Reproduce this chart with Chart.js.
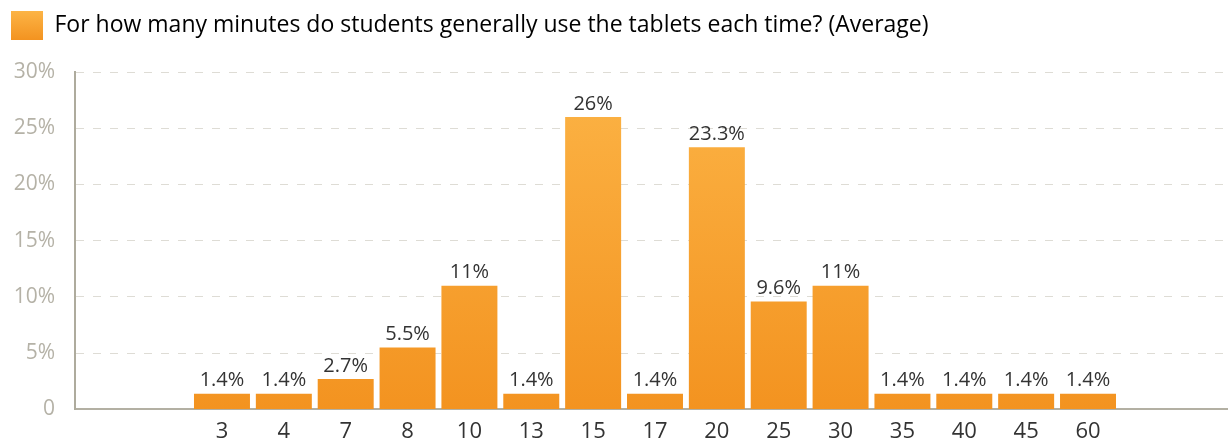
<!DOCTYPE html>
<html>
<head>
<meta charset="utf-8">
<script src="https://cdn.jsdelivr.net/npm/chart.js@4.4.1/dist/chart.umd.min.js"></script>
<style>
  body { margin: 0; background: #fff; }
  #wrap { width: 1228px; height: 442px; position: relative; }
</style>
</head>
<body>
<div id="wrap"><canvas id="myChart"></canvas></div>
<script>
// datos
const minutos = ['3', '4', '7', '8', '10', '13', '15', '17', '20', '25', '30', '35', '40', '45', '60'];
const porcentajes = [1.4, 1.4, 2.7, 5.5, 11, 1.4, 26, 1.4, 23.3, 9.6, 11, 1.4, 1.4, 1.4, 1.4];
const serie = 'For how many minutes do students generally use the tablets each time? (Average)';
const ticksY = [0, 5, 10, 15, 20, 25, 30];

const fuente = "'Open Sans', 'DejaVu Sans', sans-serif";

function degradado(ctx, top, bottom) {
    const g = ctx.createLinearGradient(0, top, 0, bottom);
    g.addColorStop(0, '#FCB446');
    g.addColorStop(1, '#F39320');
    return g;
}

// etiquetas encima de cada barra
const etiquetas = {
    id: 'etiquetas',
    afterDatasetsDraw(chart) {
        const ctx = chart.ctx;
        const meta = chart.getDatasetMeta(0);
        ctx.save();
        ctx.font = '20px ' + fuente;
        ctx.fillStyle = '#333333';
        ctx.textAlign = 'center';
        ctx.textBaseline = 'bottom';
        meta.data.forEach((bar, i) => {
            ctx.fillText(porcentajes[i] + '%', bar.x, bar.y - 3);
        });
        ctx.restore();
    }
};

// espacio extra debajo de la leyenda
const margenLeyenda = {
    id: 'margenLeyenda',
    beforeInit(chart) {
        const fitOriginal = chart.legend.fit;
        chart.legend.fit = function () {
            fitOriginal.bind(chart.legend)();
            this.height = 72;
        };
    }
};

const ctx1 = document.getElementById('myChart');

const chart1 = new Chart(ctx1, {
    type: 'bar',
    data: {
        datasets: [{
            label: serie,
            data: porcentajes.map((v, i) => ({ x: i, y: v })),
            backgroundColor: (c) => {
                const area = c.chart.chartArea;
                if (!area) return '#F5A02E';
                return degradado(c.chart.ctx, area.top, area.bottom);
            },
            borderWidth: 0,
            barPercentage: 1,
            categoryPercentage: 0.905
        }]
    },
    options: {
        responsive: true,
        maintainAspectRatio: false,
        animation: false,
        layout: { padding: 0, autoPadding: false },
        plugins: {
            tooltip: { enabled: false },
            legend: {
                position: 'top',
                align: 'start',
                labels: {
                    boxWidth: 32,
                    boxHeight: 29,
                    padding: 11,
                    color: '#2b2b2b',
                    font: { family: fuente, size: 23 },
                    generateLabels(chart) {
                        return [{
                            text: serie,
                            fillStyle: degradado(chart.ctx, 11, 40),
                            strokeStyle: 'rgba(0,0,0,0)',
                            lineWidth: 0,
                            datasetIndex: 0
                        }];
                    }
                }
            }
        },
        scales: {
            x: {
                type: 'linear',
                offset: false,
                min: -2.376,
                max: 16.263,
                grid: { display: false, drawTicks: false, offset: false },
                border: { display: true, color: '#b3b0a3', width: 2 },
                ticks: {
                    stepSize: 1,
                    autoSkip: false,
                    maxRotation: 0,
                    padding: 9,
                    color: '#333333',
                    font: { family: fuente, size: 22 },
                    callback: (v) => (Number.isInteger(v) && v >= 0 && v < minutos.length) ? minutos[v] : ''
                },
                afterFit: (s) => {
                    s.height = 32;
                    s.paddingLeft = 0;
                    s.paddingRight = 0;
                }
            },
            y: {
                min: 0,
                max: 30,
                afterBuildTicks: (s) => { s.ticks = ticksY.map(v => ({ value: v })); },
                grid: {
                    color: '#dedcd5',
                    lineWidth: 1,
                    drawTicks: false
                },
                border: { display: true, color: '#aeab9d', width: 2, dash: [8, 9] },
                ticks: {
                    padding: 20,
                    color: '#b5b2a7',
                    font: { family: fuente, size: 21 },
                    callback: (v) => v === 0 ? '0' : v + '%'
                },
                afterFit: (s) => { s.width = 75; }
            }
        }
    },
    plugins: [etiquetas, margenLeyenda]
});
</script>
</body>
</html>
